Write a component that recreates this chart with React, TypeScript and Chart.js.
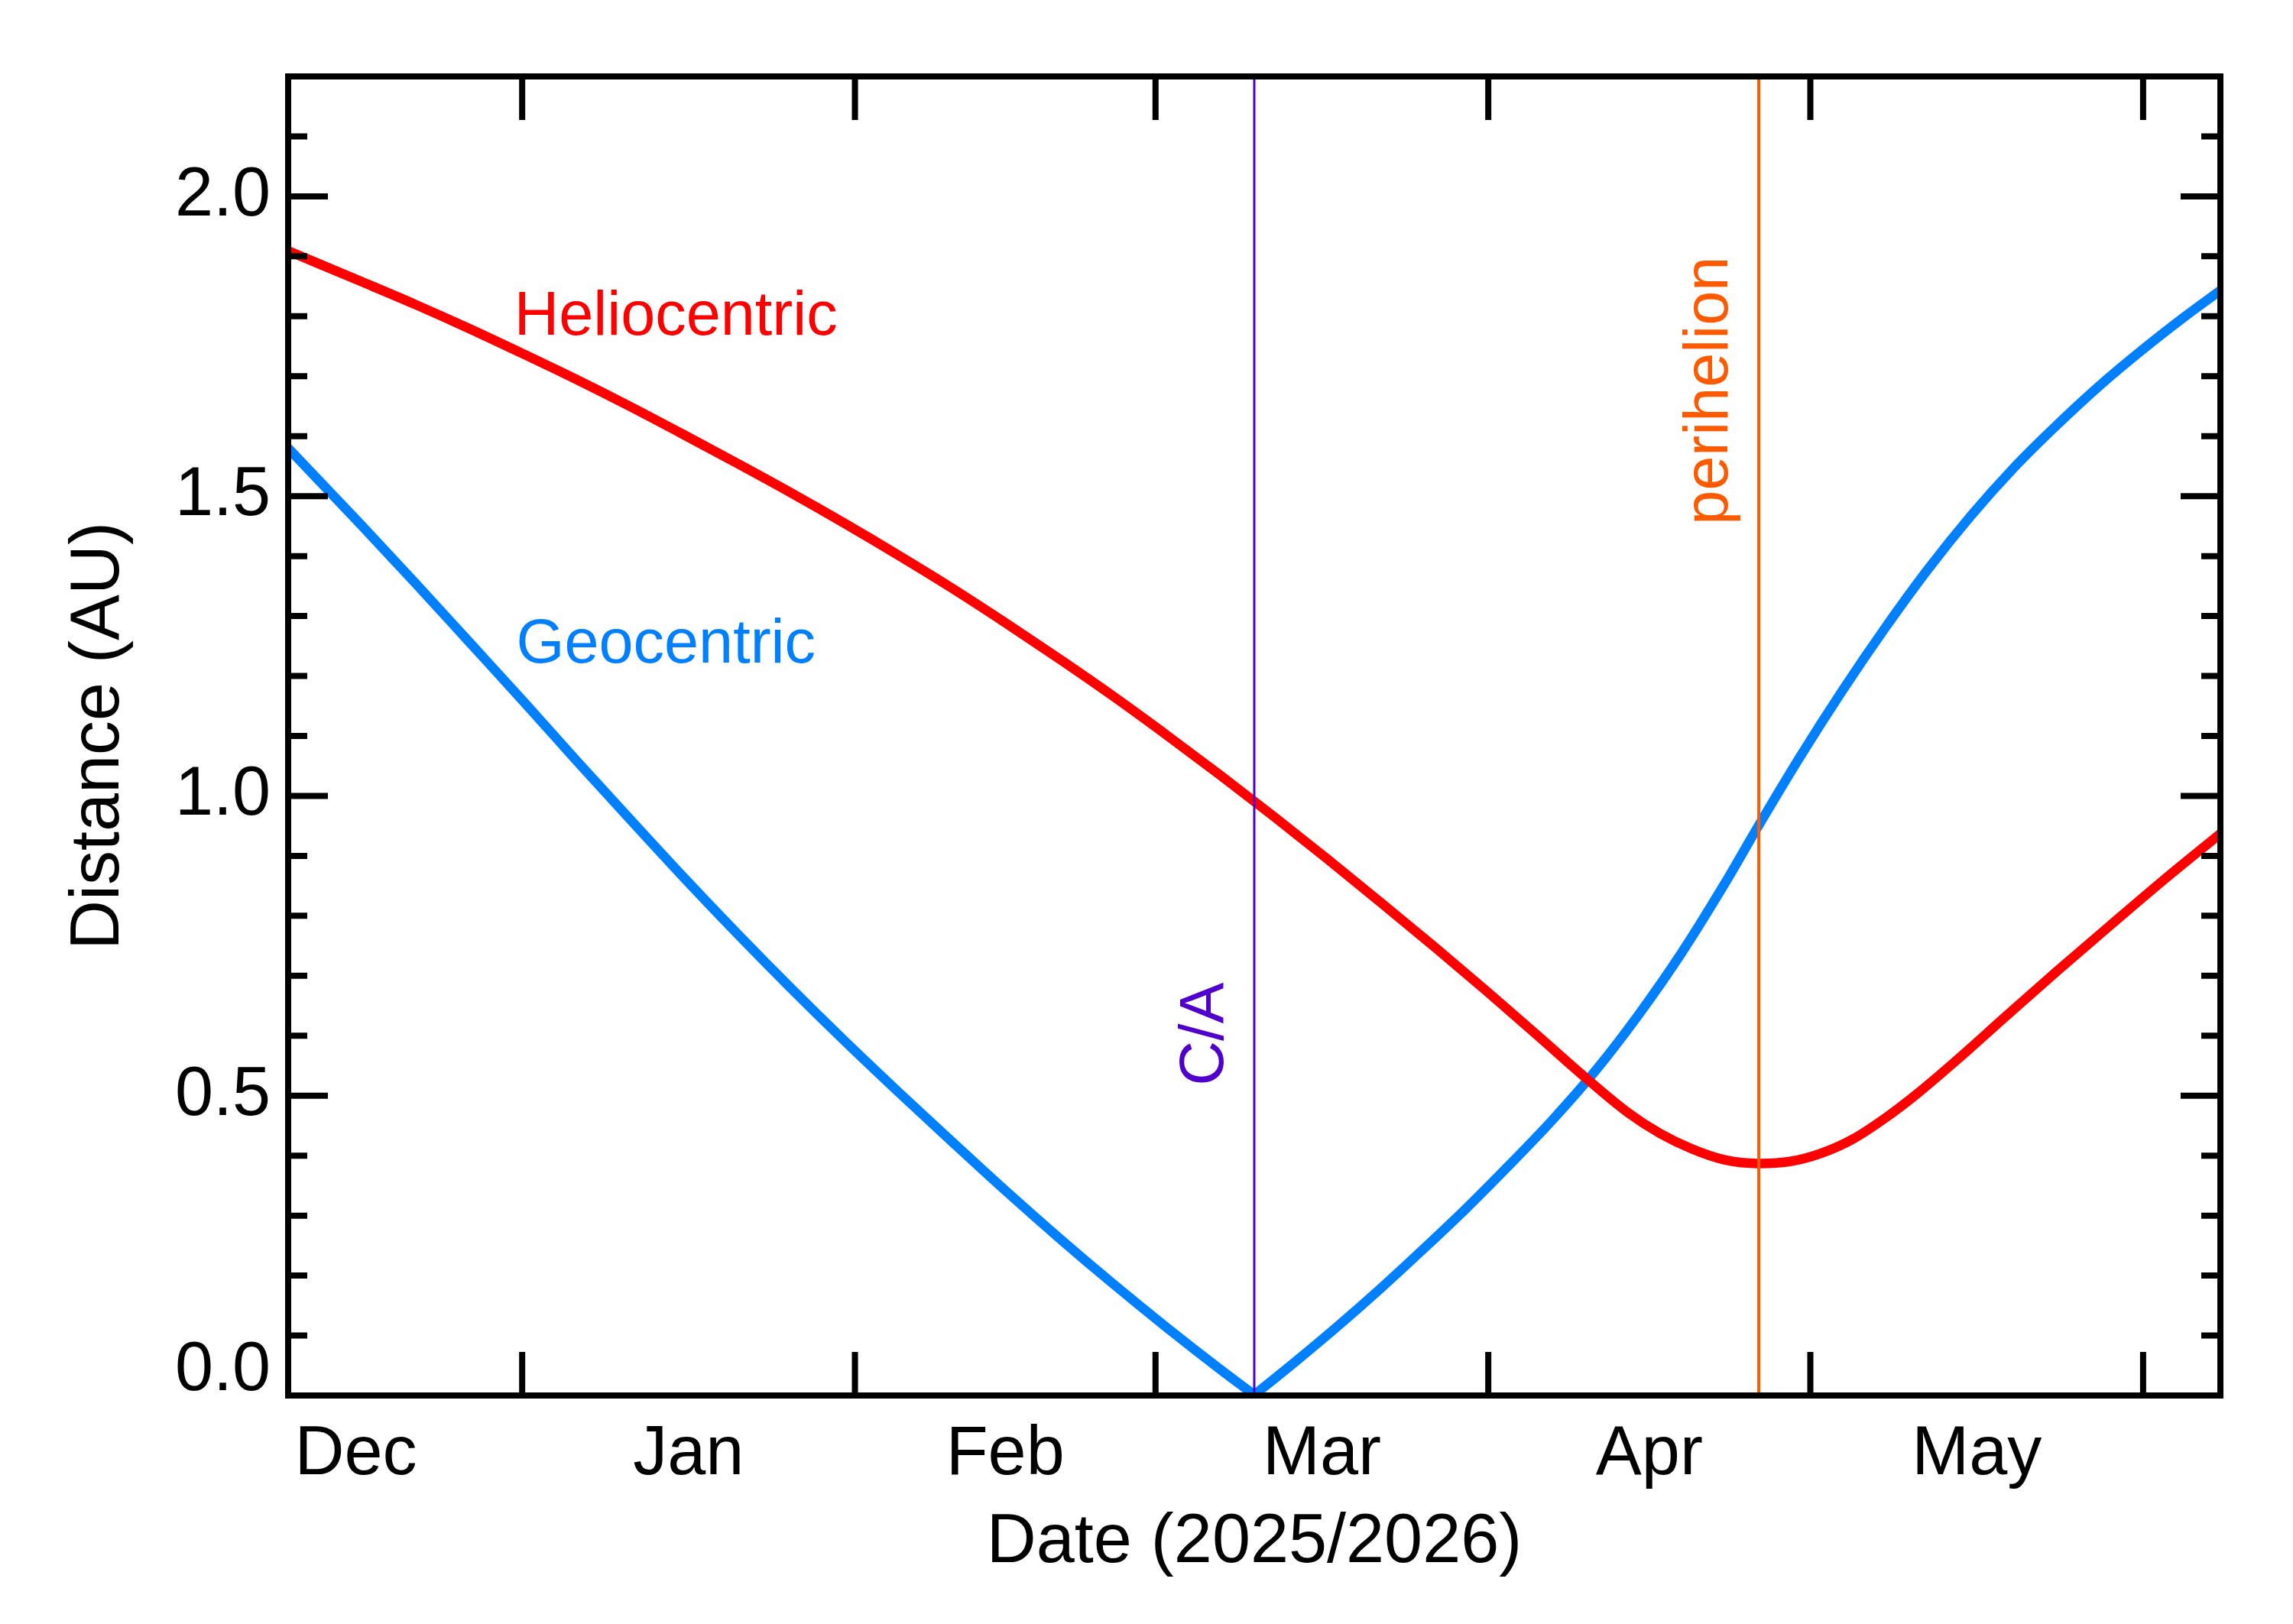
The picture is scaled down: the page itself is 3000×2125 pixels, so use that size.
import { useEffect, useRef } from "react";
import { Chart, registerables } from "chart.js";

Chart.register(...registerables);

// x values are days counted from 2026-01-01 (so 1 Dec 2025 = -31)
const X_MIN = -21.8;
const X_MAX = 158.2;
const Y_MIN = 0;
const Y_MAX = 2.2;

const monthStarts = [-31, 0, 31, 59, 90, 120, 151];
const monthLabels = ["Dec", "Jan", "Feb", "Mar", "Apr", "May"];

const yMajorTicks = [0, 0.5, 1.0, 1.5, 2.0];
const yTickLabels = ["0.0", "0.5", "1.0", "1.5", "2.0"];
const yMinorTicks = [
  0.1, 0.2, 0.3, 0.4, 0.6, 0.7, 0.8, 0.9, 1.1, 1.2, 1.3, 1.4, 1.6, 1.7, 1.8,
  1.9, 2.1,
];

// heliocentric distance (AU)
const helioDays = [
  -21.8, -15, -10, -5, 0, 5, 10, 15, 20, 25, 30, 35, 40, 45, 50, 55, 60, 65, 70,
  75, 80, 85, 90, 95, 99, 103, 106, 109, 112, 115.2, 118, 121, 124, 127, 130,
  134, 138, 143, 148, 153, 158.2,
];
const helioDist = [
  1.909, 1.858, 1.82, 1.78, 1.738, 1.695, 1.65, 1.603, 1.555, 1.506, 1.455,
  1.402, 1.347, 1.289, 1.229, 1.167, 1.102, 1.035, 0.966, 0.895, 0.822, 0.748,
  0.672, 0.594, 0.531, 0.472, 0.437, 0.411, 0.393, 0.387, 0.39, 0.404, 0.428,
  0.463, 0.504, 0.565, 0.629, 0.708, 0.785, 0.861, 0.937,
];

// geocentric distance (AU)
const geoDays = [
  -21.8, -15, -10, -5, 0, 5, 10, 15, 20, 25, 30, 35, 40, 45, 50, 55, 60, 65,
  68.2, 72, 76, 80, 84, 88, 92, 96, 100, 104, 108, 112, 115, 119, 123, 127, 131,
  135, 139, 143, 147, 151, 155, 158.2,
];
const geoDist = [
  1.58, 1.452, 1.356, 1.258, 1.16, 1.06, 0.962, 0.865, 0.771, 0.68, 0.592,
  0.507, 0.424, 0.342, 0.263, 0.187, 0.114, 0.044, 0.001, 0.056, 0.116, 0.179,
  0.245, 0.313, 0.385, 0.46, 0.542, 0.635, 0.738, 0.853, 0.945, 1.064, 1.176,
  1.281, 1.379, 1.468, 1.548, 1.619, 1.685, 1.745, 1.801, 1.843,
];

const closeApproachDay = 68.2;
const perihelionDay = 115.2;

const RED = "#ff0000";
const BLUE = "#0080ff";
const PURPLE = "#5000cc";
const ORANGE = "#ff5a00";
const FONT = "'Liberation Sans', Arial, Helvetica, sans-serif";

// IDL puts the bottom label just above the axis
const ZERO_LABEL_LIFT = 0.041;

const framePlugin = {
  id: "idlFrame",
  afterDatasetsDraw(chart: any) {
    const { ctx, scales } = chart;
    const x = scales.x;
    const y = scales.y;
    ctx.save();
    ctx.font = `81px ${FONT}`;
    ctx.textBaseline = "alphabetic";
    ctx.textAlign = "left";

    ctx.fillStyle = RED;
    ctx.fillText("Heliocentric", x.getPixelForValue(-0.75), y.getPixelForValue(1.769));
    ctx.fillStyle = BLUE;
    ctx.fillText("Geocentric", x.getPixelForValue(-0.55), y.getPixelForValue(1.223));

    const vertical = (text: string, color: string, d: number, v: number) => {
      ctx.save();
      ctx.translate(x.getPixelForValue(d), y.getPixelForValue(v));
      ctx.rotate(-Math.PI / 2);
      ctx.fillStyle = color;
      ctx.fillText(text, 0, 0);
      ctx.restore();
    };
    vertical("C/A", PURPLE, 65.3, 0.517);
    vertical("perihelion", ORANGE, 112.3, 1.452);
    ctx.restore();
  },
  afterDraw(chart: any) {
    const { ctx, chartArea: a, scales } = chart;
    const x = scales.x;
    const y = scales.y;
    ctx.save();
    ctx.strokeStyle = "#000";
    ctx.lineWidth = 8;
    ctx.lineCap = "butt";
    ctx.lineJoin = "miter";
    ctx.strokeRect(a.left, a.top, a.right - a.left, a.bottom - a.top);

    ctx.beginPath();
    monthStarts
      .filter((d) => d > X_MIN && d < X_MAX)
      .forEach((d) => {
        const px = x.getPixelForValue(d);
        ctx.moveTo(px, a.bottom);
        ctx.lineTo(px, a.bottom - 57);
        ctx.moveTo(px, a.top);
        ctx.lineTo(px, a.top + 57);
      });
    const yTick = (v: number, len: number) => {
      const py = y.getPixelForValue(v);
      ctx.moveTo(a.left, py);
      ctx.lineTo(a.left + len, py);
      ctx.moveTo(a.right, py);
      ctx.lineTo(a.right - len, py);
    };
    yMajorTicks.forEach((v) => yTick(v, 52));
    yMinorTicks.forEach((v) => yTick(v, 25));
    ctx.stroke();
    ctx.restore();
  },
};

export default function App() {
  const canvasRef = useRef<HTMLCanvasElement>(null);
  const chartRef = useRef<Chart | null>(null);

  useEffect(() => {
    document.body.style.margin = "0";
    if (!canvasRef.current) return;
    const ctx = canvasRef.current.getContext("2d");
    if (!ctx) return;

    const monthMids = monthLabels.map(
      (_, i) => (monthStarts[i] + monthStarts[i + 1]) / 2
    );
    const helioPoints = helioDays.map((d, i) => ({ x: d, y: helioDist[i] }));
    const geoPoints = geoDays.map((d, i) => ({ x: d, y: geoDist[i] }));
    // split at closest approach so the V stays sharp
    const geoIn = geoPoints.filter((p) => p.x <= closeApproachDay);
    const geoOut = geoPoints.filter((p) => p.x >= closeApproachDay);

    const tickFont = { family: FONT, size: 90 };

    if (chartRef.current) chartRef.current.destroy();

    chartRef.current = new Chart(ctx, {
      type: "line",
      data: {
        datasets: [
          {
            label: "C/A",
            data: [
              { x: closeApproachDay, y: Y_MIN },
              { x: closeApproachDay, y: Y_MAX },
            ],
            borderColor: PURPLE,
            borderWidth: 3,
          },
          {
            label: "perihelion",
            data: [
              { x: perihelionDay, y: Y_MIN },
              { x: perihelionDay, y: Y_MAX },
            ],
            borderColor: ORANGE,
            borderWidth: 4,
          },
          {
            label: "Heliocentric",
            data: helioPoints,
            borderColor: RED,
            borderWidth: 12.5,
            cubicInterpolationMode: "monotone",
          },
          {
            label: "Geocentric",
            data: geoIn,
            borderColor: BLUE,
            borderWidth: 12.5,
            cubicInterpolationMode: "monotone",
          },
          {
            label: "Geocentric (after C/A)",
            data: geoOut,
            borderColor: BLUE,
            borderWidth: 12.5,
            cubicInterpolationMode: "monotone",
          },
        ],
      },
      options: {
        animation: false,
        responsive: true,
        maintainAspectRatio: false,
        devicePixelRatio: 1,
        clip: 0,
        layout: { padding: { top: 100, right: 95, left: 0, bottom: 0 } },
        elements: {
          point: { radius: 0, hoverRadius: 0 },
          line: { borderJoinStyle: "round", fill: false },
        },
        plugins: {
          legend: { display: false },
          tooltip: { enabled: false },
        },
        scales: {
          x: {
            type: "linear",
            min: X_MIN,
            max: X_MAX,
            grid: { display: false, drawTicks: false },
            border: { display: false },
            afterBuildTicks: (s: any) => {
              s.ticks = monthMids.map((v) => ({ value: v }));
            },
            afterFit: (s: any) => {
              s.height = 299;
            },
            ticks: {
              autoSkip: false,
              maxRotation: 0,
              minRotation: 0,
              padding: 24,
              color: "#000",
              font: tickFont,
              callback: (_v: any, i: number) => monthLabels[i],
            },
            title: {
              display: true,
              text: "Date (2025/2026)",
              color: "#000",
              font: tickFont,
              padding: { top: 0, bottom: 52 },
            },
          },
          y: {
            type: "linear",
            min: Y_MIN,
            max: Y_MAX,
            grid: { display: false, drawTicks: false },
            border: { display: false },
            afterBuildTicks: (s: any) => {
              s.ticks = yMajorTicks.map((v) => ({
                value: v === 0 ? v + ZERO_LABEL_LIFT : v,
              }));
            },
            afterFit: (s: any) => {
              s.width = 377;
            },
            ticks: {
              autoSkip: false,
              padding: 23,
              color: "#000",
              font: tickFont,
              callback: (_v: any, i: number) => yTickLabels[i],
            },
            title: {
              display: true,
              text: "Distance (AU)",
              color: "#000",
              font: tickFont,
              padding: { top: 76, bottom: 0 },
            },
          },
        },
      },
      plugins: [framePlugin],
    });

    return () => {
      chartRef.current?.destroy();
      chartRef.current = null;
    };
  }, []);

  return (
    <div style={{ width: 3000, height: 2125, position: "relative", background: "#fff" }}>
      <canvas ref={canvasRef} />
    </div>
  );
}
